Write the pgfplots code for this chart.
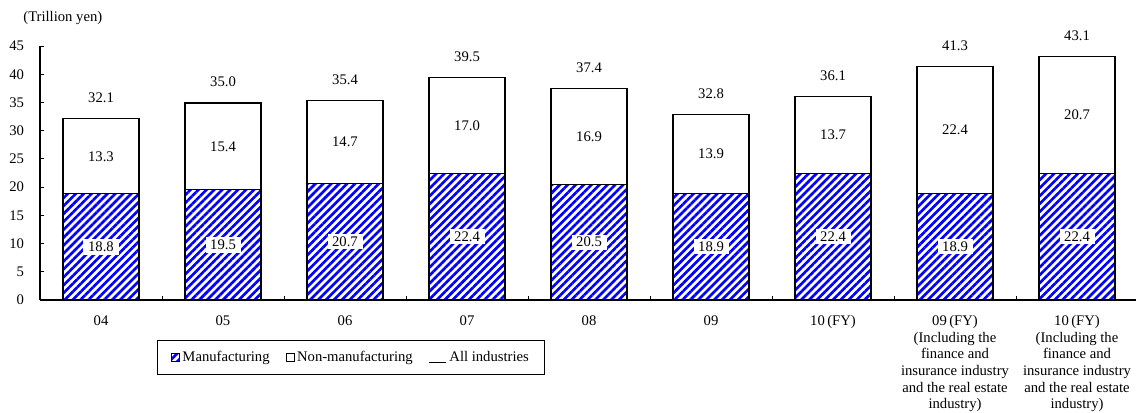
\documentclass[border=0pt]{standalone}
\usepackage{fontspec}
\setmainfont{Liberation Serif}
\usepackage{pgfplots}
\usepackage{pgfplotstable}
\pgfplotsset{compat=1.18}
\usetikzlibrary{patterns.meta}

% Ordinary profits by industry (trillion yen)
\pgfplotstableread{
x mfg  nonmfg total
0 18.8 13.3   32.1
1 19.5 15.4   35.0
2 20.7 14.7   35.4
3 22.4 17.0   39.5
4 20.5 16.9   37.4
5 18.9 13.9   32.8
6 22.4 13.7   36.1
7 18.9 22.4   41.3
8 22.4 20.7   43.1
}\profits

\pgfplotsset{
  common/.style={
    scale only axis, width=823.5pt, height=190.5pt,
    at={(30pt,84pt)}, anchor=south west,
    xmin=-0.5, xmax=8.5, ymin=0, ymax=45,
    /pgf/number format/assume math mode=true,
  },
  % value label in the middle of its own segment of the stack
  seglabel/.style={
    nodes near coords={\pgfmathprintnumber[fixed,fixed zerofill,precision=1]{\pgfplotspointmeta}},
    point meta=explicit,
    every node near coord/.style={anchor=center, fill=white, text=black,
      inner xsep=3.5pt, inner ysep=2pt},
  },
  boxlegend/.style={
    legend image code/.code={\draw[##1, line width=0.6pt] (0pt,-3pt) rectangle (6pt,3pt);}},
  linelegend/.style={
    legend image code/.code={\draw[black, line width=0.5pt] (1pt,-3.5pt) -- (14pt,-3.5pt);}},
}

\begin{document}
\begin{tikzpicture}[font=\fontsize{11}{12.75}\selectfont]
\path[use as bounding box] (0,0) rectangle (852pt,309pt);
\node[anchor=west] at (14pt,295.5pt) {(Trillion yen)};
\begin{axis}[common,
  ybar stacked, bar width=57pt,
  axis lines*=left,
  axis line style={line width=1.1pt},
  ytick={0,5,...,45},
  tick align=inside,
  major tick length=3pt,
  minor tick length=3pt,
  y tick style={black, line width=0.6pt},
  xtick={0,...,8},
  major x tick style={draw=none},
  minor xtick={0.5,1.5,...,7.5},
  minor x tick style={black, line width=0.6pt},
  xticklabels={04,05,06,07,08,09,10\,(FY),
    {09\,(FY)\\(Including the\\finance and\\insurance industry\\and the real estate\\industry)},
    {10\,(FY)\\(Including the\\finance and\\insurance industry\\and the real estate\\industry)}},
  xticklabel style={align=center, anchor=north, yshift=-8pt,
    font=\fontsize{11}{12.5}\selectfont},
  yticklabel style={xshift=-8.5pt},
  legend columns=3,
  legend style={at={(0.2835,-0.2257)}, anchor=center, draw=black, line width=0.8pt,
    inner xsep=10pt, inner ysep=6pt,
    /tikz/every even column/.append style={column sep=10pt}},
  clip=false,
]
\addplot[draw=black, line width=0.8pt,
  pattern={Lines[angle=45,distance=4.2pt,line width=2pt]}, pattern color=blue,
  seglabel, boxlegend]
  table[x=x, y=mfg, meta=mfg] {\profits};
\addlegendentry{Manufacturing}
\addplot[draw=black, line width=0.8pt, fill=white,
  seglabel, boxlegend]
  table[x=x, y=nonmfg, meta=nonmfg] {\profits};
\addlegendentry{Non-manufacturing}
\addlegendimage{linelegend}
\addlegendentry{All industries}
\end{axis}
% totals above each stack
\begin{axis}[common, hide axis, clip=false]
\addplot[draw=none, mark=none,
  nodes near coords={\pgfmathprintnumber[fixed,fixed zerofill,precision=1]{\pgfplotspointmeta}},
  point meta=explicit,
  every node near coord/.append style={anchor=center, text=black, yshift=15.5pt}]
  table[x=x, y=total, meta=total] {\profits};
\end{axis}
\end{tikzpicture}
\end{document}
